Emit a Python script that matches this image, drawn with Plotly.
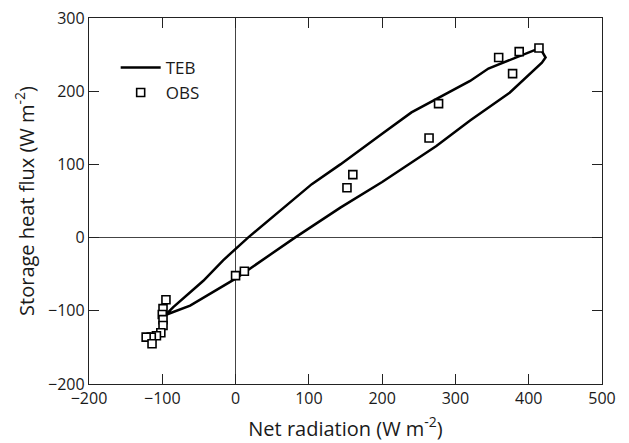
import plotly.graph_objects as go

# TEB modelled hysteresis loop (net radiation vs storage heat flux)
teb_x = [-99, -96, -85, -44, -17, 0, 17, 104, 143, 200, 240, 320, 345, 408, 416, 423,
         418, 374, 320, 274, 200, 143, 81, 0, -62, -94, -99]
teb_y = [-108, -106, -95, -59, -31, -15, 0, 73, 100, 142, 171, 214, 231, 256, 258, 246,
         239, 198, 160, 125, 76, 41, 0, -56, -93, -105, -108]

# Observations
obs_x = [414, 387, 359, 378, 277, 264, 160, 152, 12, 0,
         -95, -99, -100, -99, -99, -102, -108, -115, -122, -114]
obs_y = [259, 254, 246, 224, 183, 136, 86, 68, -46, -52,
         -85, -97, -105, -112, -120, -130, -134, -136, -136, -145]

x_ticks = [-200, -100, 0, 100, 200, 300, 400, 500]
y_ticks = [-200, -100, 0, 100, 200, 300]

FONT = "Open Sans"
TXT = "#1a1a1a"

fig = go.Figure()
fig.add_trace(go.Scatter(
    x=teb_x, y=teb_y, mode="lines", name="TEB",
    line=dict(color="black", width=2.5, shape="linear"),
))
fig.add_trace(go.Scatter(
    x=obs_x, y=obs_y, mode="markers", name="OBS",
    marker=dict(symbol="square", size=8, color="white",
                line=dict(color="black", width=1.6)),
))

axis_common = dict(
    showgrid=False, showline=True, linecolor="#222", linewidth=1.3,
    mirror="ticks", ticks="inside", ticklen=10, tickwidth=1.2, tickcolor="#222",
    zeroline=True, zerolinecolor="#444", zerolinewidth=1,
    tickfont=dict(family=FONT, size=16, color=TXT),
    ticklabeloverflow="allow",
    automargin=False,
)

fig.update_xaxes(
    range=[-200, 500], tickvals=x_ticks, **axis_common,
    title=dict(text="Net radiation (W m<sup>-2</sup>)",
               font=dict(family=FONT, size=20, color=TXT), standoff=13),
)
fig.update_yaxes(
    range=[-200, 300], tickvals=y_ticks, **axis_common,
    title=dict(text="Storage heat flux (W m<sup>-2</sup>)",
               font=dict(family=FONT, size=20, color=TXT), standoff=8),
)

# page body has an 8px margin, so the figure is sized to fit the 629x443 window
fig.update_layout(
    width=621, height=435,
    margin=dict(l=81, r=27, t=10, b=59),
    plot_bgcolor="white", paper_bgcolor="white",
    font=dict(family=FONT, color=TXT),
    legend=dict(x=0.052, y=0.913, xanchor="left", yanchor="top",
                bgcolor="rgba(0,0,0,0)", font=dict(family=FONT, size=17, color=TXT),
                itemwidth=40, tracegroupgap=0),
)

fig.write_html("out.html")
